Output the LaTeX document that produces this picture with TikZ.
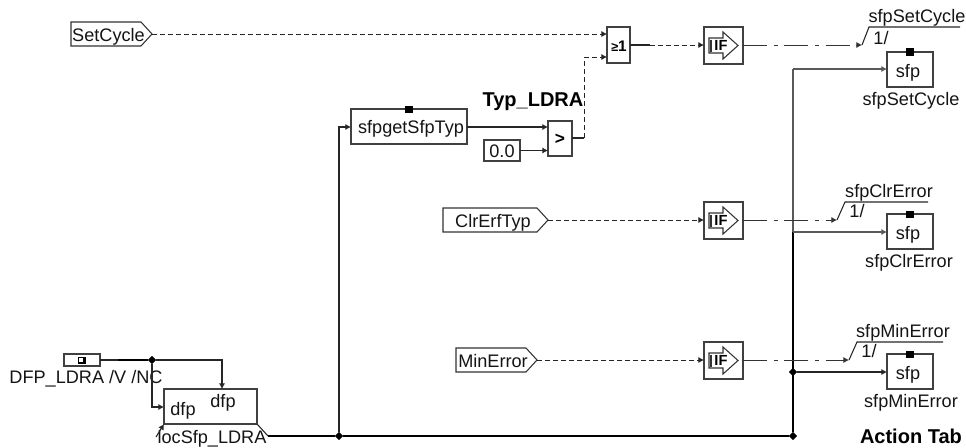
\documentclass[tikz,border=0pt]{standalone}
\usepackage{fontspec}
\setmainfont{Liberation Sans}
\usetikzlibrary{arrows.meta,shapes.geometric}
\tikzset{
  x=0.75pt,y=-0.75pt,
  every node/.style={inner sep=0pt,outer sep=0pt},
  lbl/.style={font=\fontsize{13.6pt}{14pt}\selectfont,text height=9.75pt,text depth=0pt,text=black!92},
  blbl/.style={font=\fontsize{15pt}{16pt}\selectfont\bfseries,text height=10.75pt,text depth=0pt,text=black},
  bx/.style 2 args={draw=black!75,line width=0.85pt,fill=white,minimum width=#1*0.75pt,minimum height=#2*0.75pt},
  wire/.style={line width=0.8pt,draw=black!85},
  grayw/.style={line width=1.1pt,draw=black!65},
  thick wire/.style={line width=2.1pt,draw=black},
  arr/.style={-{Latex[length=4.2pt,width=4.6pt]}},
  dashw/.style={line width=0.75pt,draw=black!85,dash pattern=on 3.6pt off 2.4pt},
  dashdot/.style={line width=0.75pt,draw=black!80,dash pattern=on 18pt off 5pt on 3pt off 5pt},
  junc/.style={diamond,fill=black,minimum width=6.2pt,minimum height=6.2pt},
  tick/.style={fill=black,minimum width=5.4pt,minimum height=5.4pt},
  sigbox/.style={draw=black!80,line width=0.8pt,fill=white},
}
\newcommand{\ifblock}[2]{%
  \node[bx={39}{37}] (#1) at (723.5,#2) {};
  \draw[line width=0.8pt,draw=black!80] (709,#2-7.5) -- (723,#2-7.5) -- (723,#2-13.5) -- (738,#2) -- (723,#2+13.5) -- (723,#2+7.5) -- (709,#2+7.5) -- cycle;
  \draw[line width=0.8pt,draw=black!80] (711,#2-6) -- (711,#2+6);
  \node[font=\fontsize{11pt}{12pt}\selectfont\bfseries,text height=8pt,text depth=0pt] at (721,#2) {IF};
}
\begin{document}
\begin{tikzpicture}
\useasboundingbox (0,0) rectangle (966,447);
\clip (0,0) rectangle (966,447);

% input signals
\draw[sigbox] (71,22) -- (141,22) -- (152,34) -- (141,46) -- (71,46) -- cycle;
\node[lbl] (setcycle) at (108.5,34.5) {SetCycle};
\coordinate (setTip) at (152,34);
\draw[sigbox] (443,208) -- (537,208) -- (548,220) -- (537,232) -- (443,232) -- cycle;
\node[lbl] (clrerf) at (493,220.5) {ClrErfTyp};
\coordinate (clrTip) at (548,220);
\draw[sigbox] (456,348) -- (526,348) -- (537,360) -- (526,372) -- (456,372) -- cycle;
\node[lbl] (minerr) at (493,360.5) {MinError};
\coordinate (minTip) at (537,360);

% boxes
\node[bx={23}{36}] (orb) at (618.5,45) {};
\node[font=\fontsize{11.5pt}{15pt}\selectfont\bfseries,text height=8pt,text depth=0pt] (orl) at (619,46.5) {{\fontsize{9.5pt}{9pt}\selectfont ≥}1};
\ifblock{ifa}{45.5}
\ifblock{ifb}{220.5}
\ifblock{ifc}{360.5}

\node[bx={116}{35}] (typ) at (409,126.5) {};
\node[lbl] (typl) at (411,127) {sfpgetSfpTyp};
\node[tick] (typt) at (409,109.5) {};
\node[bx={24}{35}] (cmp) at (560,138.5) {};
\node[font=\fontsize{13pt}{14pt}\selectfont\bfseries] (cmpl) at (560,139) {>};
\node[bx={36}{21}] (zero) at (502,150.5) {};
\node[lbl] (zerol) at (502,151) {0.0};
\node[blbl] (typldra) at (533,99) {Typ\_LDRA};

\node[bx={46}{35}] (sfpa) at (910,69.5) {};
\node[lbl] at (908,70.5) {sfp};
\node[tick] at (910,52) {};
\node[lbl] at (911,98.5) {sfpSetCycle};
\node[bx={46}{35}] (sfpb) at (910,231.5) {};
\node[lbl] at (908,233) {sfp};
\node[tick] at (910,214.5) {};
\node[lbl] at (909,261) {sfpClrError};
\node[bx={46}{35}] (sfpc) at (910,371.5) {};
\node[lbl] at (908,373) {sfp};
\node[tick] at (910,354.5) {};
\node[lbl] at (911,401) {sfpMinError};

% DFP source
\node[bx={36}{12}] (dfpsrc) at (82,360) {};
\node[fill=black,minimum width=5.8pt,minimum height=5.4pt] (dfpicon) at (82,360.5) {};
\node[fill=white,minimum width=3.2pt,minimum height=3pt] at (81,360) {};
\node[lbl] (dfplbl) at (86,377) {DFP\_LDRA /V /NC};
\node[bx={93}{35}] (dfpbox) at (210.5,406.5) {};
\node[lbl] at (183,408.5) {dfp};
\node[lbl] at (223,401) {dfp};
\node[lbl] (loc) at (212,436.5) {locSfp\_LDRA};
\draw[wire] (dfpbox.south east) -- (268,436);
\draw[wire,arr] (156,437) -- (dfpbox.south west);

% junctions coordinates
\node[junc] (j1) at (152,360) {};
\node[junc] (j2) at (339,436) {};
\node[junc] (j3) at (793,436) {};
\node[junc] (j4) at (793,372) {};
\coordinate (busb) at (793,232);
\coordinate (bust) at (793,69);
\coordinate (kb) at (584,138);
\coordinate (kt) at (584,57);
\coordinate (ka) at (339,127);
\coordinate (d1) at (222,360);
\coordinate (d2) at (152,407);
\coordinate (busl) at (268,436);

% wires
\draw[wire] (dfpsrc.east) -- (j1);
\draw[thick wire,line width=1.4pt] (118,360) -- (j1);
\draw[wire,arr] (j1) -- (d1) -- (d1 |- dfpbox.north);
\draw[wire,arr] (j1) -- (d2) -- (d2 -| dfpbox.west);
\draw[thick wire] (busl) -- (j2);
\draw[thick wire] (j2) -- (j3);
\draw[thick wire] (j3) -- (busb);
\draw[grayw] (busb) -- (bust);
\draw[grayw,arr] (bust) -- (bust -| sfpa.west);
\draw[grayw,arr] (busb) -- (busb -| sfpb.west);
\draw[wire,arr] (j4) -- (j4 -| sfpc.west);
\draw[wire,arr] (j2) -- (ka) -- (ka -| typ.west);
\draw[wire,arr] (typ.east |- 0,127) -- (cmp.west |- 0,127);
\draw[wire,arr] (zero.east) -- (cmp.west |- zero.east);
\draw[wire] (cmp.east |- kb) -- (kb);
\draw[dashw] (kb) -- (kt);
\draw[dashw,arr] (kt) -- (kt -| orb.west);
\draw[dashw,arr] (setTip) -- (setTip -| orb.west);
\draw[wire] (orb.east) -- (650,45);
\draw[dashw,arr] (650,45) -- (ifa.west |- 0,45);
\draw[dashw,arr] (clrTip) -- (clrTip -| ifb.west);
\draw[dashw,arr] (minTip) -- (minTip -| ifc.west);

% outputs
\coordinate (oa1) at (862,45);
\coordinate (oa2) at (869,27);
\coordinate (ob1) at (837,220);
\coordinate (ob2) at (845,202);
\coordinate (oc1) at (849,360);
\coordinate (oc2) at (857,342);
\draw[dashdot,arr] (ifa.east |- oa1) -- (oa1);
\draw[wire] (oa1) -- (oa2) -- (960,27);
\draw[dashdot,arr] (ifb.east |- ob1) -- (ob1);
\draw[wire] (ob1) -- (ob2) -- (928,202);
\draw[dashdot,arr] (ifc.east |- oc1) -- (oc1);
\draw[wire] (oc1) -- (oc2) -- (943,342);
\node[lbl] at (917,16) {sfpSetCycle};
\node[lbl] at (881,38) {1/};
\node[lbl] at (889,191) {sfpClrError};
\node[lbl] at (857,211) {1/};
\node[lbl] at (903,331) {sfpMinError};
\node[lbl] at (869,351) {1/};

\node[blbl,anchor=west] at (860,436) {Action Tab};
\end{tikzpicture}
\end{document}
